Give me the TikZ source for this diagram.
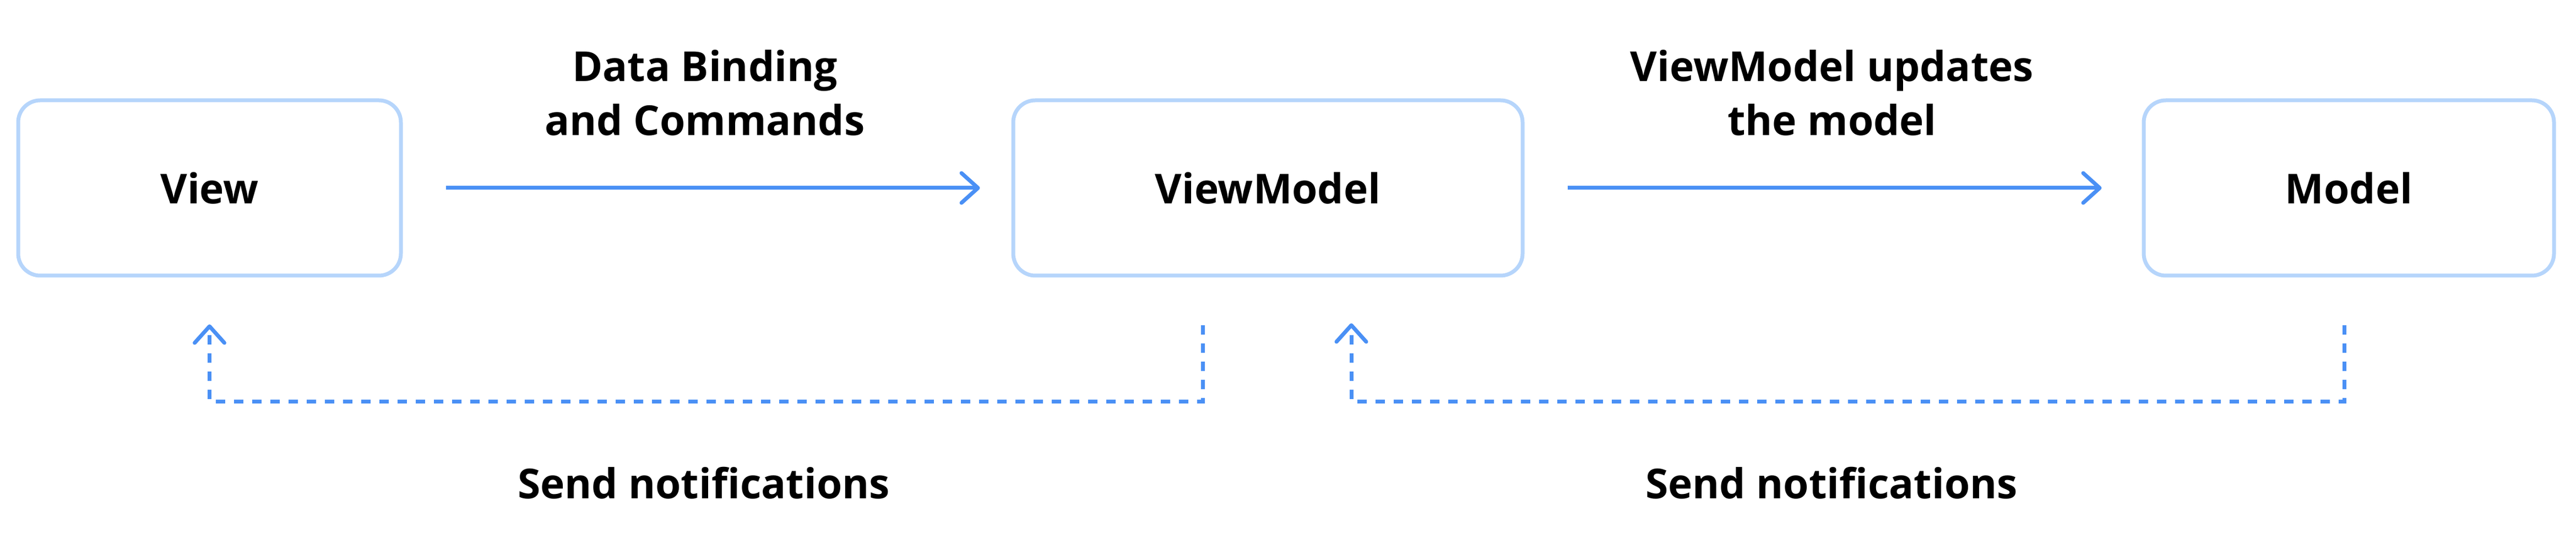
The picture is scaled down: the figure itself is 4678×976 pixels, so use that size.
\documentclass[tikz,border=0pt]{standalone}
\usepackage{fontspec}
\setmainfont{Open Sans}
\usetikzlibrary{arrows.meta}
\definecolor{boxline}{RGB}{182,213,251}
\definecolor{flowblue}{RGB}{74,144,245}

\begin{document}
\begin{tikzpicture}[x=0.1mm,y=-0.1mm,
  txt/.style={font=\fontsize{21.3}{27.9}\selectfont\bfseries},
  layer/.style={txt,draw=boxline,line width=0.7mm,rounded corners=4mm,minimum height=31.8mm},
  lbl/.style={txt,align=center},
  flow/.style={draw=flowblue,line width=0.7mm,-{Straight Barb[length=3mm,width=5.4mm,line cap=round,line join=round]}},
  notify/.style={flow,dash pattern=on 1.7mm off 1.6mm}]
  \useasboundingbox (0,0) rectangle (4678,976);

  \node[layer,minimum width=69.5mm] (view) at (380.5,341) {View};
  \node[layer,minimum width=92.5mm] (vm) at (2302.5,341) {ViewModel};
  \node[layer,minimum width=74.5mm] (model) at (4265.5,341) {Model};

  \draw[flow,shorten <=7.8mm,shorten >=5.7mm] (view) -- (vm);
  \draw[flow,shorten <=7.8mm,shorten >=7.3mm] (vm) -- (model);
  \node[lbl] (bindlbl) at (1280,168) {Data Binding\\and Commands};
  \node[lbl] (updlbl) at (3327,168) {ViewModel updates\\the model};

  % notifications back
  \coordinate (bus) at (0,729);
  \coordinate (viewin) at ([yshift=-8.5mm]view.south);
  \coordinate (vmout) at ([xshift=-11.85mm,yshift=-8.7mm]vm.south);
  \coordinate (vmin) at ([xshift=15.15mm,yshift=-8.3mm]vm.south);
  \coordinate (modelout) at ([xshift=-0.85mm,yshift=-8.7mm]model.south);
  \draw[notify] (vmout) |- (viewin |- bus) -- (viewin);
  \draw[notify] (modelout) |- (vmin |- bus) -- (vmin);

  \node[lbl,anchor=base] (note1) at (1278,905) {Send notifications};
  \node[lbl,anchor=base] (note2) at (3326,905) {Send notifications};
\end{tikzpicture}
\end{document}
